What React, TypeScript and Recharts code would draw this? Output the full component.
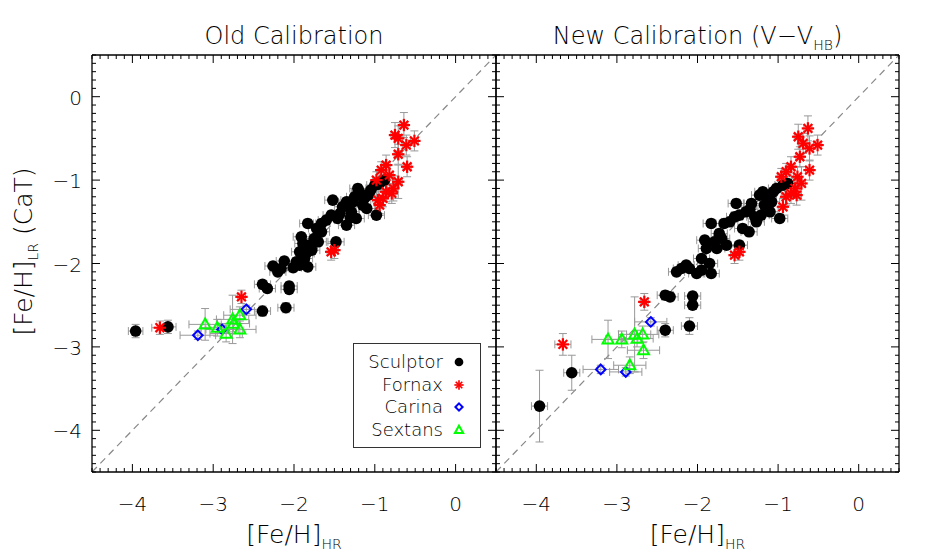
import React from 'react';
import { ScatterChart, Scatter, XAxis, YAxis, ErrorBar, ReferenceLine, Legend } from 'recharts';

const FONT = '"DejaVu Sans", Lato, sans-serif';
const FW = 200;

// ---------- axes / labels ----------
const axisDomain: [number, number] = [-4.5, 0.5];
const majorTickValues = [-4, -3, -2, -1, 0];
const minorTickValues = Array.from({ length: 51 }, (_, i) => Math.round((-4.5 + i * 0.1) * 10) / 10);
const panelTitles = ['Old Calibration', 'New Calibration (V\u2212V'];
const titleSub = 'HB';
const xAxisLabel = '[Fe/H]';
const xAxisSub = 'HR';
const yAxisLabel = '[Fe/H]';
const yAxisSub = 'LR';
const yAxisTail = ' (CaT)';

// ---------- legend ----------
const galaxyNames = ['Sculptor', 'Fornax', 'Carina', 'Sextans'];
const galaxyColors = ['#000000', '#ff0000', '#0000ff', '#00ff00'];
const galaxyMarkers = ['circle', 'star', 'diamond', 'triangle'];

// ---------- data: [FeH_HR, FeH_LR, errX, errY] ----------
const sculptorOld = [
  [-3.96, -2.81, 0.09, 0.08], [-3.56, -2.76, 0.1, 0.08], [-2.39, -2.57, 0.1, 0.06], [-2.10, -2.53, 0.1, 0.06],
  [-2.06, -2.27, 0.1, 0.05], [-2.06, -2.31, 0.1, 0.05], [-2.39, -2.25, 0.1, 0.05], [-2.33, -2.30, 0.1, 0.05],
  [-2.26, -2.03, 0.1, 0.05], [-2.16, -2.06, 0.1, 0.05], [-2.12, -1.97, 0.1, 0.05], [-2.01, -2.05, 0.1, 0.05],
  [-1.93, -2.02, 0.1, 0.05], [-1.83, -2.04, 0.1, 0.05], [-1.87, -1.94, 0.1, 0.05], [-1.93, -1.86, 0.1, 0.05],
  [-1.78, -1.84, 0.1, 0.05], [-1.89, -1.76, 0.1, 0.05], [-1.91, -1.68, 0.1, 0.05], [-1.83, -1.52, 0.1, 0.05],
  [-1.70, -1.74, 0.1, 0.05], [-1.66, -1.62, 0.1, 0.05], [-1.66, -1.52, 0.1, 0.05], [-1.54, -1.42, 0.1, 0.05],
  [-1.52, -1.24, 0.1, 0.05], [-1.48, -1.74, 0.1, 0.05], [-1.43, -1.40, 0.1, 0.05], [-1.35, -1.54, 0.1, 0.05],
  [-1.33, -1.30, 0.1, 0.05], [-1.29, -1.38, 0.1, 0.05], [-1.23, -1.46, 0.1, 0.05], [-1.19, -1.14, 0.1, 0.05],
  [-1.21, -1.10, 0.1, 0.05], [-1.15, -1.30, 0.1, 0.05], [-1.08, -1.18, 0.1, 0.05], [-1.10, -1.34, 0.1, 0.05],
  [-0.98, -1.42, 0.1, 0.05], [-1.00, -1.06, 0.1, 0.05], [-0.92, -1.02, 0.1, 0.05], [-0.88, -1.00, 0.1, 0.05],
  [-1.27, -1.26, 0.1, 0.05], [-1.35, -1.26, 0.1, 0.05], [-1.46, -1.46, 0.1, 0.05], [-1.72, -1.58, 0.1, 0.05],
  [-1.81, -1.78, 0.1, 0.05], [-1.85, -1.88, 0.1, 0.05], [-1.40, -1.32, 0.1, 0.05], [-1.25, -1.20, 0.1, 0.05],
  [-1.60, -1.48, 0.1, 0.05], [-1.75, -1.70, 0.1, 0.05], [-1.13, -1.22, 0.1, 0.05], [-1.05, -1.12, 0.1, 0.05],
  [-0.95, -1.05, 0.1, 0.05], [-1.30, -1.45, 0.1, 0.05], [-2.20, -2.10, 0.1, 0.05], [-1.97, -1.98, 0.1, 0.05],
];
const fornaxOld = [
  [-0.64, -0.34, 0.05, 0.15], [-0.75, -0.46, 0.05, 0.15], [-0.71, -0.50, 0.05, 0.15], [-0.51, -0.53, 0.05, 0.12],
  [-0.61, -0.58, 0.05, 0.12], [-0.71, -0.69, 0.05, 0.12], [-0.60, -0.84, 0.05, 0.12], [-0.86, -0.82, 0.05, 0.12],
  [-0.92, -0.88, 0.05, 0.10], [-0.82, -0.94, 0.05, 0.12], [-0.71, -1.02, 0.05, 0.20], [-0.98, -1.00, 0.05, 0.10],
  [-0.77, -1.10, 0.05, 0.15], [-0.86, -1.14, 0.05, 0.12], [-0.90, -1.22, 0.05, 0.10], [-0.94, -1.30, 0.05, 0.10],
  [-0.96, -1.24, 0.05, 0.10], [-0.79, -1.16, 0.05, 0.12], [-1.50, -1.84, 0.05, 0.10], [-1.54, -1.86, 0.05, 0.10],
  [-3.66, -2.77, 0.10, 0.08], [-2.65, -2.40, 0.05, 0.08],
];
const carinaOld = [
  [-3.19, -2.86, 0.22, 0.05], [-2.89, -2.79, 0.20, 0.05], [-2.59, -2.55, 0.20, 0.05],
];
const sextansOld = [
  [-3.10, -2.73, 0.20, 0.19], [-2.95, -2.77, 0.20, 0.10], [-2.84, -2.84, 0.20, 0.10], [-2.76, -2.67, 0.20, 0.29],
  [-2.75, -2.72, 0.20, 0.10], [-2.67, -2.79, 0.20, 0.10], [-2.67, -2.62, 0.20, 0.10],
];

const sculptorNew = [
  [-3.96, -3.71, 0.10, 0.43], [-3.56, -3.31, 0.10, 0.21], [-2.40, -2.80, 0.10, 0.08], [-2.10, -2.75, 0.10, 0.10],
  [-2.06, -2.50, 0.10, 0.05], [-2.06, -2.39, 0.10, 0.05], [-2.40, -2.38, 0.10, 0.05], [-2.34, -2.40, 0.10, 0.05],
  [-2.26, -2.10, 0.1, 0.05], [-2.14, -2.02, 0.1, 0.05], [-2.10, -2.06, 0.1, 0.05], [-2.01, -2.12, 0.1, 0.05],
  [-1.95, -2.08, 0.1, 0.05], [-1.83, -2.12, 0.1, 0.05], [-1.85, -2.00, 0.1, 0.05], [-1.95, -1.94, 0.1, 0.05],
  [-1.89, -1.82, 0.1, 0.05], [-1.91, -1.72, 0.1, 0.05], [-1.83, -1.52, 0.1, 0.05], [-1.79, -1.74, 0.1, 0.05],
  [-1.73, -1.64, 0.1, 0.05], [-1.67, -1.52, 0.1, 0.05], [-1.64, -1.78, 0.1, 0.05], [-1.52, -1.28, 0.1, 0.05],
  [-1.54, -1.44, 0.1, 0.05], [-1.48, -1.78, 0.1, 0.05], [-1.44, -1.58, 0.1, 0.05], [-1.36, -1.62, 0.1, 0.05],
  [-1.40, -1.38, 0.1, 0.05], [-1.33, -1.28, 0.1, 0.05], [-1.27, -1.50, 0.1, 0.05], [-1.29, -1.44, 0.1, 0.05],
  [-1.21, -1.42, 0.1, 0.05], [-1.19, -1.14, 0.1, 0.05], [-1.23, -1.18, 0.1, 0.05], [-1.17, -1.30, 0.1, 0.05],
  [-1.10, -1.38, 0.1, 0.05], [-1.06, -1.14, 0.1, 0.05], [-0.98, -1.46, 0.1, 0.05], [-0.94, -1.06, 0.1, 0.05],
  [-0.88, -1.04, 0.1, 0.05], [-1.08, -1.26, 0.1, 0.05], [-1.48, -1.42, 0.1, 0.05], [-1.60, -1.50, 0.1, 0.05],
  [-1.70, -1.70, 0.1, 0.05], [-1.12, -1.22, 0.1, 0.05], [-1.02, -1.10, 0.1, 0.05], [-1.35, -1.35, 0.1, 0.05],
  [-2.20, -2.06, 0.1, 0.05], [-1.76, -1.82, 0.1, 0.05],
];
const fornaxNew = [
  [-0.63, -0.38, 0.05, 0.15], [-0.75, -0.48, 0.05, 0.15], [-0.69, -0.56, 0.05, 0.12], [-0.51, -0.58, 0.05, 0.12],
  [-0.61, -0.62, 0.05, 0.15], [-0.73, -0.72, 0.05, 0.12], [-0.61, -0.88, 0.05, 0.12], [-0.84, -0.84, 0.05, 0.12],
  [-0.90, -0.90, 0.05, 0.10], [-0.76, -0.96, 0.05, 0.12], [-0.96, -0.96, 0.05, 0.10], [-0.71, -1.04, 0.05, 0.20],
  [-0.79, -1.10, 0.05, 0.12], [-0.84, -1.16, 0.05, 0.12], [-0.90, -1.20, 0.05, 0.10], [-0.94, -1.32, 0.05, 0.10],
  [-0.77, -1.18, 0.05, 0.12], [-1.48, -1.86, 0.05, 0.10], [-1.54, -1.90, 0.05, 0.10], [-3.67, -2.97, 0.10, 0.13],
  [-2.66, -2.46, 0.05, 0.10],
];
const carinaNew = [
  [-3.20, -3.27, 0.22, 0.05], [-2.89, -3.30, 0.20, 0.05], [-2.58, -2.70, 0.20, 0.05],
];
const sextansNew = [
  [-3.11, -2.91, 0.20, 0.23], [-2.94, -2.91, 0.20, 0.10], [-2.84, -3.22, 0.20, 0.10], [-2.78, -2.85, 0.20, 0.45],
  [-2.75, -2.90, 0.20, 0.10], [-2.68, -2.85, 0.20, 0.10], [-2.67, -3.04, 0.20, 0.10],
];

const toPoints = (arr: number[][]) => arr.map(([x, y, ex, ey]) => ({ x, y, ex, ey }));

// ---------- markers ----------
const Marker = ({ kind, cx, cy, s = 1 }: any) => {
  if (cx == null || cy == null) return null;
  if (kind === 'circle') return <circle cx={cx} cy={cy} r={5.8 * s} fill="#000" />;
  if (kind === 'star') {
    const r = 6.2 * s;
    const d = r * 0.7071;
    return (
      <g stroke="#ff0000" strokeWidth={2.2 * s} strokeLinecap="butt">
        <line x1={cx - r} y1={cy} x2={cx + r} y2={cy} />
        <line x1={cx} y1={cy - r} x2={cx} y2={cy + r} />
        <line x1={cx - d} y1={cy - d} x2={cx + d} y2={cy + d} />
        <line x1={cx - d} y1={cy + d} x2={cx + d} y2={cy - d} />
      </g>
    );
  }
  if (kind === 'diamond') {
    const r = 4.8 * s;
    return (
      <polygon
        points={`${cx},${cy - r} ${cx + r},${cy} ${cx},${cy + r} ${cx - r},${cy}`}
        fill="none" stroke="#0000ff" strokeWidth={2} />
    );
  }
  const r = 5.5 * s;
  return (
    <polygon
      points={`${cx},${cy - r * 1.05} ${cx + r},${cy + r * 0.75} ${cx - r},${cy + r * 0.75}`}
      fill="none" stroke="#00ff00" strokeWidth={2} strokeLinejoin="miter" />
  );
};

// ---------- ticks ----------
const fmt = (v: number) => (v < 0 ? '\u2212' + Math.abs(v) : String(v));
const isMajor = (v: number) => majorTickValues.some((m) => Math.abs(m - v) < 1e-6);

const TickMark = (props: any) => {
  const { x, y, payload, side, showLabel } = props;
  const v = payload.value;
  const major = isMajor(v);
  const len = major ? 8 : 4;
  let x2 = x, y2 = y;
  if (side === 'bottom') y2 = y - len;
  if (side === 'top') y2 = y + len;
  if (side === 'left') x2 = x + len;
  if (side === 'right') x2 = x - len;
  return (
    <g>
      <line x1={x} y1={y} x2={x2} y2={y2} stroke="#000" strokeWidth={1} />
      {showLabel && major && side === 'bottom' && (
        <text x={x} y={y + 32} textAnchor="middle" dominantBaseline="central" fontFamily={FONT} fontWeight={FW} fontSize={20} fill="#000">
          {fmt(v)}
        </text>
      )}
      {showLabel && major && side === 'left' && (
        <text x={x - 10} y={y + 1} textAnchor="end" dominantBaseline="central" fontFamily={FONT} fontWeight={FW} fontSize={20} fill="#000">
          {fmt(v)}
        </text>
      )}
    </g>
  );
};

// ---------- labels ----------
const TitleLabel = ({ viewBox, idx }: any) => {
  const cx = viewBox.x + viewBox.width / 2;
  const y = viewBox.y + viewBox.height - 11;
  return (
    <text x={cx} y={y} textAnchor="middle" fontFamily={FONT} fontWeight={FW} fontSize={24} fill="#000">
      {panelTitles[idx]}
      {idx === 1 && (
        <>
          <tspan fontSize={14} dy={6}>{titleSub}</tspan>
          <tspan dy={-6}>)</tspan>
        </>
      )}
    </text>
  );
};

const XTitle = ({ viewBox }: any) => {
  const cx = viewBox.x + viewBox.width / 2;
  const y = viewBox.y + 71;
  return (
    <text x={cx} y={y} textAnchor="middle" fontFamily={FONT} fontWeight={FW} fontSize={25} fill="#000">
      {xAxisLabel}
      <tspan fontSize={14} dy={6}>{xAxisSub}</tspan>
    </text>
  );
};

const YTitle = ({ viewBox }: any) => {
  const x = viewBox.x + viewBox.width - 60;
  const y = viewBox.y + viewBox.height / 2 - 12;
  return (
    <text x={x} y={y} transform={`rotate(-90, ${x}, ${y})`} textAnchor="middle" fontFamily={FONT} fontWeight={FW} fontSize={25} fill="#000">
      {yAxisLabel}
      <tspan fontSize={14} dy={6}>{yAxisSub}</tspan>
      <tspan dy={-6}>{yAxisTail}</tspan>
    </text>
  );
};

// ---------- legend ----------
const LegendBox = () => (
  <div
    style={{
      width: 128, height: 105, border: '1px solid #333', boxSizing: 'border-box', background: '#fff',
      position: 'relative', fontFamily: FONT, fontWeight: FW, fontSize: 18, color: '#000',
    }}
  >
    {galaxyNames.map((name, i) => (
      <React.Fragment key={name}>
        <div
          style={{
            position: 'absolute', right: 37, top: 18 + i * 22.7 - 12, height: 24, lineHeight: '24px',
            whiteSpace: 'nowrap', textAlign: 'right',
          }}
        >
          {name}
        </div>
        <svg style={{ position: 'absolute', left: 96, top: 18 + i * 22.7 - 9 }} width={18} height={18}>
          <Marker kind={galaxyMarkers[i]} cx={9} cy={9} s={0.75} />
        </svg>
      </React.Fragment>
    ))}
  </div>
);

// ---------- panel ----------
const W = 926;
const H = 556;
const PLOT_TOP = 55;
const PLOT_BOTTOM = 472;

const Panel = ({ left, right, idx, sets, showLegend }: any) => (
  <div style={{ position: 'absolute', left: 0, top: 0 }}>
    <ScatterChart width={W} height={H} margin={{ top: PLOT_TOP - 1, bottom: H - PLOT_BOTTOM - 1, left: left - 1, right: W - right - 1 }}>
      <XAxis
        xAxisId="b" type="number" dataKey="x" domain={axisDomain} allowDataOverflow ticks={minorTickValues}
        interval={0} height={1} tickSize={0} tickMargin={0} axisLine={{ stroke: '#000', strokeWidth: 1.3 }}
        tickLine={false} tick={(p: any) => <TickMark {...p} side="bottom" showLabel />}
        label={{ content: (p: any) => <XTitle {...p} /> }}
      />
      <XAxis
        xAxisId="t" orientation="top" type="number" dataKey="x" domain={axisDomain} allowDataOverflow ticks={minorTickValues}
        interval={0} height={1} tickSize={0} tickMargin={0} axisLine={{ stroke: '#000', strokeWidth: 1.3 }}
        tickLine={false} tick={(p: any) => <TickMark {...p} side="top" />}
        label={{ content: (p: any) => <TitleLabel {...p} idx={idx} /> }}
      />
      <YAxis
        yAxisId="l" type="number" dataKey="y" domain={axisDomain} allowDataOverflow ticks={minorTickValues}
        interval={0} width={1} tickSize={0} tickMargin={0} axisLine={{ stroke: '#000', strokeWidth: 1.3 }}
        tickLine={false} tick={(p: any) => <TickMark {...p} side="left" showLabel={idx === 0} />}
        label={idx === 0 ? { content: (p: any) => <YTitle {...p} /> } : undefined}
      />
      <YAxis
        yAxisId="r" orientation="right" type="number" dataKey="y" domain={axisDomain} allowDataOverflow ticks={minorTickValues}
        interval={0} width={1} tickSize={0} tickMargin={0} axisLine={{ stroke: '#000', strokeWidth: 1.3 }}
        tickLine={false} tick={(p: any) => <TickMark {...p} side="right" />}
      />
      <ReferenceLine
        xAxisId="b" yAxisId="l"
        segment={[{ x: -4.5, y: -4.5 }, { x: 0.5, y: 0.5 }]}
        stroke="#888" strokeWidth={1.2} strokeDasharray="7 5"
      />
      {sets.map((data: any[], i: number) => (
        <Scatter
          key={galaxyNames[i]} name={galaxyNames[i]} xAxisId="b" yAxisId="l" data={toPoints(data)}
          isAnimationActive={false} fill={galaxyColors[i]}
          shape={(p: any) => <Marker kind={galaxyMarkers[i]} cx={p.cx} cy={p.cy} />}
        >
          <ErrorBar dataKey="ex" direction="x" width={4} stroke="#999" strokeWidth={1} />
          <ErrorBar dataKey="ey" direction="y" width={4} stroke="#999" strokeWidth={1} />
        </Scatter>
      ))}
      {showLegend && (
        <Legend
          layout="vertical" align="center" verticalAlign="middle" content={() => <LegendBox />}
          wrapperStyle={{ left: 353, top: 343, width: 128, height: 105 }}
        />
      )}
    </ScatterChart>
  </div>
);

export default function App() {
  return (
    <div style={{ position: 'absolute', left: 0, top: 0, width: W, height: H, background: '#fff' }}>
      <Panel left={92} right={496} idx={0} sets={[sculptorOld, fornaxOld, carinaOld, sextansOld]} showLegend />
      <Panel left={496} right={899} idx={1} sets={[sculptorNew, fornaxNew, carinaNew, sextansNew]} showLegend={false} />
    </div>
  );
}
